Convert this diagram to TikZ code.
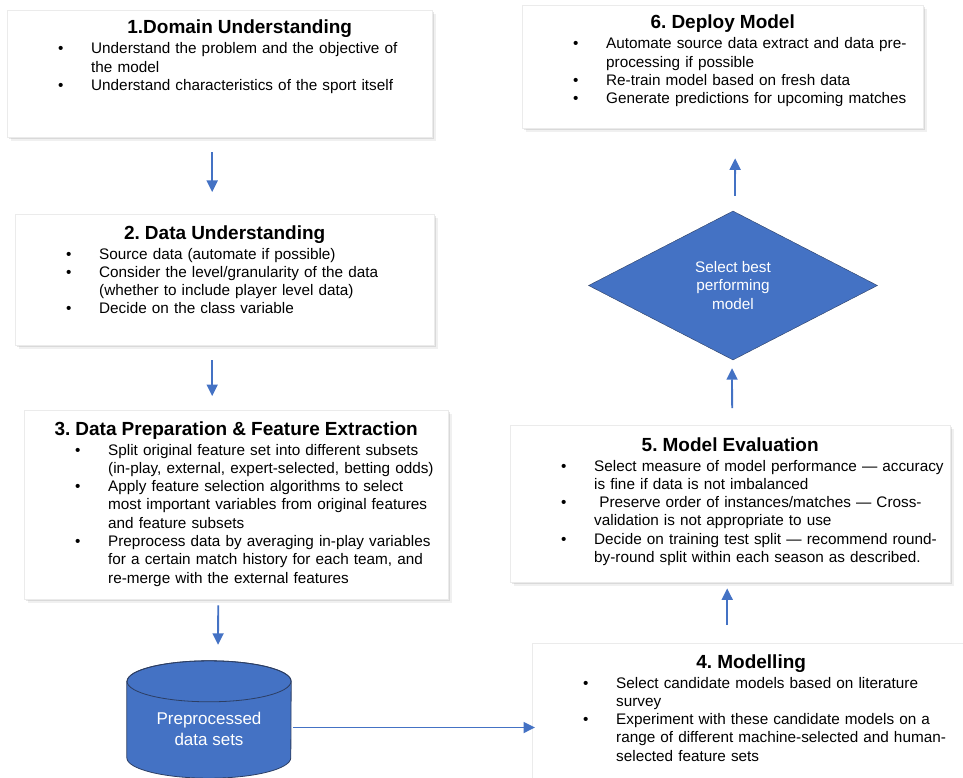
\documentclass[tikz,border=0pt]{standalone}
\usepackage{fontspec}
\setmainfont{Liberation Sans}
\usetikzlibrary{arrows.meta,shapes.geometric,shadows}
\definecolor{flowblue}{HTML}{4472C4}
\definecolor{rimblue}{HTML}{2C3E63}
\tikzstyle{block} = [draw=black!8,fill=white,rectangle,anchor=north west,drop shadow={shadow xshift=3.5pt,shadow yshift=-4pt,opacity=0.12},drop shadow={shadow xshift=1.8pt,shadow yshift=-2.2pt,opacity=0.2}]
\tikzstyle{info} = [anchor=base west,inner sep=0pt,align=left,font=\fontsize{15.3}{18.3}\selectfont\frenchspacing]
\tikzstyle{flow} = [-{Triangle[length=11.5pt,width=11pt]},draw=flowblue,fill=flowblue,line width=1.8pt]
\tikzstyle{decide} = [diamond,draw=rimblue,fill=flowblue,text=white,align=center,inner sep=0pt,minimum width=289pt,minimum height=149pt,font=\fontsize{15.3}{18.5}\selectfont]
\newcommand{\stagetitle}[1]{{\centering\fontsize{19}{20}\selectfont\bfseries #1\par}\vspace{1.7pt}}
\newcommand{\point}[1]{\par\noindent\hangindent=84pt\hangafter=1\hspace*{51pt}\makebox[33pt][l]{\textbullet}#1\par}
\begin{document}
\begin{tikzpicture}[x=1pt,y=-1pt]
\clip (0,0) rectangle (963,778);
% left column
\node (dom) [block,minimum width=425pt,minimum height=127pt] at (7,10) {};
\node (domtxt) [info,text width=425pt] at ([yshift=-24pt]dom.north west) {\stagetitle{\hspace*{40pt}1.Domain Understanding}%
\point{Understand the problem and the objective of\newline the model}%
\point{Understand characteristics of the sport itself}};
\node (und) [block,minimum width=419pt,minimum height=131pt] at (15,214) {};
\node (undtxt) [info,text width=419pt] at ([yshift=-25pt]und.north west) {\stagetitle{2. Data Understanding}%
\point{Source data (automate if possible)}%
\point{Consider the level/granularity of the data\newline (whether to include player level data)}%
\point{Decide on the class variable}};
\node (prep) [block,minimum width=424pt,minimum height=189pt] at (24,410) {};
\node (preptxt) [info,text width=424pt] at ([yshift=-25pt]prep.north west) {\stagetitle{3. Data Preparation \& Feature Extraction}%
\point{Split original feature set into different subsets\newline (in-play, external, expert-selected, betting odds)}%
\point{Apply feature selection algorithms to select\newline most important variables from original features\newline and feature subsets}%
\point{Preprocess data by averaging in-play variables\newline for a certain match history for each team, and\newline re-merge with the external features}};
\node (db) [minimum width=164pt,minimum height=117pt,inner sep=0pt] at (209,719.5) {};
\filldraw [fill=flowblue,draw=rimblue,line width=0.8pt] ([yshift=-20.5pt]db.north west) -- ([yshift=20.5pt]db.south west)
  arc [start angle=180,end angle=360,x radius=82pt,y radius=20.5pt] -- ([yshift=-20.5pt]db.north east)
  arc [start angle=0,end angle=180,x radius=82pt,y radius=20.5pt] -- cycle;
\draw [draw=rimblue,line width=0.8pt] ([yshift=-20.5pt]db.north) ellipse [x radius=82pt,y radius=20.5pt];
\node (dbtxt) [text=white,align=center,font=\fontsize{17}{21}\selectfont] at (209,729) {Preprocessed\\data sets};
% right column
\node (mod) [block,minimum width=438pt,minimum height=150pt] at (532,643) {};
\node (modtxt) [info,text width=438pt] at ([yshift=-25pt]mod.north west) {\stagetitle{4. Modelling}%
\point{Select candidate models based on literature\newline survey}%
\point{Experiment with these candidate models on a\newline range of different machine-selected and human-\newline selected feature sets}};
\node (evl) [block,minimum width=440pt,minimum height=157pt] at (510,425) {};
\node (evltxt) [info,text width=440pt] at ([yshift=-26pt]evl.north west) {\stagetitle{5. Model Evaluation}%
\point{Select measure of model performance — accuracy\newline is fine if data is not imbalanced}%
\point{ Preserve order of instances/matches — Cross-\newline validation is not appropriate to use}%
\point{Decide on training test split — recommend round-\newline by-round split within each season as described.}};
\node (best) [decide] at (733,285.5) {Select best\\performing\\model};
\node (dep) [block,minimum width=401pt,minimum height=123pt] at (522,5) {};
\node (deptxt) [info,text width=401pt] at ([yshift=-24pt]dep.north west) {\stagetitle{6. Deploy Model}%
\point{Automate source data extract and data pre-\newline processing if possible}%
\point{Re-train model based on fresh data}%
\point{Generate predictions for upcoming matches}};
% connectors
\draw [flow,shorten <=15pt,shorten >=22pt] ([xshift=-7.5pt]dom.south) -- ([xshift=-12.5pt]und.north);
\draw [flow,shorten <=15pt,shorten >=14pt] ([xshift=-12.5pt]und.south) -- ([xshift=-24pt]prep.north);
\draw [flow,shorten <=6pt,shorten >=16pt] ([xshift=-18pt]prep.south) -- ([xshift=9pt]db.north);
\draw [flow,shorten <=2pt,shorten >=-3pt] ([yshift=-8pt]db.east) -- ([yshift=-8pt]db.east -| mod.west);
\draw [flow,shorten <=18pt,shorten >=6pt] ([xshift=-24pt]mod.north) -- ([xshift=-3pt]evl.south);
\draw [flow,shorten <=17pt,shorten >=8pt] ([xshift=2pt]evl.north) -- ([xshift=-1pt]best.south);
\draw [flow,shorten <=15pt,shorten >=30pt] ([xshift=2pt]best.north) -- ([xshift=12.5pt]dep.south);
\end{tikzpicture}
\end{document}
